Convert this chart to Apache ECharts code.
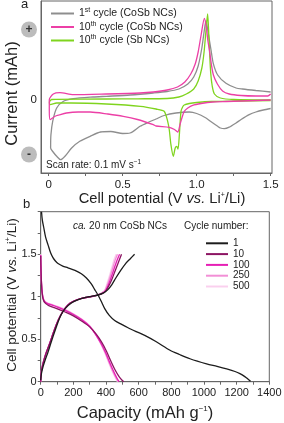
<!DOCTYPE html>
<html><head><meta charset="utf-8">
<script src="https://cdn.jsdelivr.net/npm/echarts@6/dist/echarts.min.js"></script>
<style>html,body{margin:0;padding:0;background:#fff}#c{width:284px;height:423px}</style>
</head><body><div id="c"></div>
<script>
// ---------- Panel a: cyclic voltammetry (potential V, current arbitrary units) ----------
const cvXTicks = [0, 0.25, 0.5, 0.75, 1.0, 1.25, 1.5];
const cvXLabels = [0, 0.5, 1.0, 1.5];
const cvYLabels = [-5.45, 0, 7.05];   // "-", "0", "+"
const cvNames = ['1st cycle (CoSb NCs)', '10th cycle (CoSb NCs)', '10th cycle (Sb NCs)'];
const cvCycle1CoSb = [[1.5,-0.85],[1.45,-1.0],[1.4,-1.2],[1.355,-1.47],[1.3,-1.95],[1.266,-2.3],[1.22,-2.72],[1.187,-2.87],[1.16,-2.8],[1.142,-2.63],[1.1,-2.2],[1.063,-1.8],[1.0,-1.35],[0.95,-1.2],[0.86,-1.3],[0.78,-1.55],[0.725,-1.9],[0.67,-2.25],[0.617,-2.63],[0.55,-3.3],[0.5,-3.35],[0.42,-3.15],[0.35,-3.2],[0.28,-3.63],[0.21,-4.13],[0.155,-4.8],[0.11,-5.63],[0.08,-5.97],[0.054,-5.63],[0.03,-5.2],[0.013,-4.8],[0.015,-3.5],[0.027,-2.13],[0.054,-0.8],[0.1,-0.13],[0.166,0.13],[0.3,0.3],[0.39,0.37],[0.55,0.5],[0.707,0.7],[0.8,0.85],[0.88,1.1],[0.94,1.6],[0.98,2.3],[1.01,3.4],[1.035,5.2],[1.05,6.8],[1.063,7.93],[1.075,7.0],[1.088,5.8],[1.097,5.0],[1.112,3.67],[1.142,2.5],[1.198,1.67],[1.266,1.2],[1.31,1.1],[1.4,0.95],[1.5,0.8]];
const cvCycle10CoSb = [[1.5,0.0],[1.4,-0.05],[1.3,-0.1],[1.2,-0.15],[1.108,-0.2],[1.03,-0.35],[0.973,-0.53],[0.94,-0.8],[0.916,-1.13],[0.9,-1.8],[0.887,-2.47],[0.872,-3.2],[0.85,-2.95],[0.815,-2.73],[0.725,-2.6],[0.707,-2.47],[0.6,-1.95],[0.504,-1.63],[0.4,-1.4],[0.28,-1.2],[0.2,-1.2],[0.12,-1.3],[0.07,-1.5],[0.043,-1.63],[0.01,-1.97],[0.004,-1.0],[0.004,0.03],[0.031,0.6],[0.076,0.73],[0.166,0.53],[0.39,0.6],[0.617,0.7],[0.707,0.8],[0.8,1.0],[0.87,1.3],[0.92,1.8],[0.96,2.6],[0.99,3.6],[1.01,4.8],[1.03,6.5],[1.052,8.17],[1.065,7.3],[1.075,6.0],[1.086,5.0],[1.1,3.5],[1.113,2.5],[1.14,1.6],[1.175,0.9],[1.22,0.6],[1.3,0.45],[1.4,0.4],[1.48,0.4],[1.5,0.6]];
const cvCycle10Sb = [[1.5,-0.05],[1.3,-0.1],[1.1,-0.15],[1.0,-0.25],[0.95,-0.35],[0.916,-0.5],[0.905,-0.7],[0.894,-1.13],[0.883,-3.47],[0.874,-4.9],[0.865,-4.63],[0.855,-4.8],[0.842,-5.63],[0.826,-4.47],[0.815,-3.0],[0.804,-2.13],[0.78,-1.13],[0.725,-0.9],[0.62,-0.63],[0.39,-0.4],[0.15,-0.3],[0.054,-0.3],[0.01,-0.47],[0.005,-0.2],[0.02,0.05],[0.05,0.07],[0.39,0.1],[0.6,0.12],[0.8,0.15],[0.88,0.3],[0.93,0.6],[0.98,1.1],[1.01,1.9],[1.035,3.2],[1.05,4.8],[1.062,6.8],[1.074,8.6],[1.082,6.5],[1.088,4.5],[1.095,2.67],[1.105,1.4],[1.12,0.6],[1.16,0.2],[1.25,0.05],[1.5,0.0]];

// ---------- Panel b: galvanostatic profiles (capacity mAh/g, potential V) ----------
const gcXLabels = [0, 200, 400, 600, 800, 1000, 1200, 1400];
const gcYLabels = [0, 0.5, 1, 1.5];
const gcCycles = ['1', '10', '100', '250', '500'];
const gc1Discharge = [[5,2.0],[10,1.9],[18,1.82],[30,1.7],[45,1.61],[60,1.52],[75,1.46],[90,1.42],[106,1.39],[135,1.36],[167,1.34],[210,1.31],[249,1.27],[280,1.22],[310,1.15],[335,1.07],[351,1.02],[372,0.94],[392,0.86],[420,0.78],[453,0.72],[490,0.68],[535,0.635],[585,0.59],[637,0.545],[708,0.47],[792,0.37],[850,0.32],[914,0.27],[1016,0.21],[1080,0.18],[1139,0.15],[1190,0.12],[1220,0.095],[1250,0.06],[1270,0.03],[1285,0.005]];
const gc1Charge = [[0,0.02],[5,0.1],[15,0.18],[30,0.27],[45,0.35],[65,0.47],[86,0.59],[106,0.7],[126,0.79],[150,0.86],[188,0.925],[230,0.965],[270,0.99],[310,1.005],[350,1.02],[385,1.045],[410,1.08],[435,1.14],[460,1.22],[490,1.31],[520,1.39],[550,1.45],[575,1.5]];
const gc10Discharge = [[0,1.48],[2,1.3],[5,1.15],[9,1.04],[15,0.97],[25,0.93],[45,0.9],[70,0.88],[106,0.855],[150,0.82],[200,0.775],[250,0.715],[300,0.645],[340,0.56],[375,0.46],[405,0.35],[430,0.24],[455,0.14],[480,0.06],[500,0.015],[510,0]];
const gc10Charge = [[0,0],[4,0.12],[15,0.22],[30,0.32],[55,0.45],[80,0.59],[106,0.72],[137,0.83],[165,0.9],[200,0.945],[250,0.98],[290,0.995],[330,1.01],[370,1.03],[395,1.06],[415,1.12],[435,1.2],[455,1.3],[475,1.4],[495,1.5]];
const gc100Discharge = [[0,1.49],[2,1.3],[5,1.15],[9,1.05],[15,0.98],[25,0.94],[45,0.915],[70,0.9],[106,0.875],[150,0.84],[200,0.79],[250,0.73],[300,0.65],[335,0.56],[370,0.45],[398,0.34],[422,0.23],[445,0.13],[465,0.05],[480,0]];
const gc100Charge = [[0,0],[4,0.12],[15,0.22],[30,0.32],[55,0.45],[80,0.59],[106,0.72],[137,0.83],[165,0.9],[200,0.945],[250,0.98],[290,0.995],[330,1.01],[370,1.035],[395,1.065],[412,1.13],[430,1.22],[448,1.32],[466,1.42],[483,1.5]];
const gc250Discharge = [[0,1.49],[2,1.3],[5,1.16],[9,1.06],[15,0.985],[25,0.945],[45,0.92],[70,0.905],[106,0.88],[150,0.845],[200,0.795],[250,0.735],[300,0.655],[335,0.56],[368,0.45],[395,0.34],[418,0.23],[440,0.13],[460,0.05],[475,0]];
const gc250Charge = [[0,0],[4,0.12],[15,0.22],[30,0.32],[55,0.45],[80,0.59],[106,0.72],[137,0.83],[165,0.9],[200,0.945],[250,0.98],[290,0.995],[330,1.01],[370,1.04],[392,1.07],[408,1.14],[424,1.23],[440,1.33],[456,1.43],[470,1.5]];
const gc500Discharge = [[0,1.5],[2,1.3],[5,1.16],[9,1.06],[15,0.99],[25,0.95],[45,0.925],[70,0.91],[106,0.885],[150,0.85],[200,0.8],[250,0.74],[300,0.66],[335,0.565],[366,0.45],[392,0.34],[415,0.23],[436,0.13],[456,0.05],[470,0]];
const gc500Charge = [[0,0],[4,0.12],[15,0.22],[30,0.32],[55,0.45],[80,0.59],[106,0.72],[137,0.83],[165,0.9],[200,0.945],[250,0.98],[290,0.995],[330,1.01],[370,1.04],[390,1.07],[405,1.15],[420,1.24],[435,1.34],[450,1.44],[462,1.5]];

const FONT = 'Liberation Sans, Arial, Helvetica, sans-serif';
const TXT = '#222';
const AX = '#666';
const cvColors = ['#8e8e8e', '#ec3fa6', '#7fd41e'];
const gcColors = {'1':'#1c1c1c','10':'#8c1462','100':'#e61fb5','250':'#f28fd6','500':'#fad0ee'};

const supRich = {
  sup: {fontSize: 7, fontFamily: FONT, color: TXT, verticalAlign: 'top', padding: [0,0,6,0]},
  it: {fontStyle: 'italic', fontFamily: FONT, color: TXT}
};

const chart = echarts.init(document.getElementById('c'), null, {renderer: 'canvas'});

function cvSeries(name, data, color) {
  return {type: 'line', name: name, xAxisIndex: 0, yAxisIndex: 0, data: data, showSymbol: false, symbol: 'none',
    smooth: 0.25, lineStyle: {color: color, width: 1.3}, itemStyle: {color: color}, silent: true, animation: false};
}
function gcSeries(name, data) {
  return {type: 'line', name: name, xAxisIndex: 1, yAxisIndex: 1, data: data, showSymbol: false, symbol: 'none',
    smooth: 0.3, lineStyle: {color: gcColors[name], width: 1.3}, itemStyle: {color: gcColors[name]}, silent: true, animation: false};
}
const hiddenSymbol = {color: 'rgba(0,0,0,0)', borderColor: 'rgba(0,0,0,0)', borderWidth: 0, opacity: 0};

const option = {
  animation: false,
  backgroundColor: '#fff',
  textStyle: {fontFamily: FONT},
  grid: [
    {left: 41, top: 1, width: 231, height: 172, show: true, borderColor: AX, borderWidth: 1, containLabel: false, outerBoundsMode: 'none'},
    {left: 40.7, top: 211.7, width: 228.6, height: 170, show: true, borderColor: AX, borderWidth: 1, containLabel: false, outerBoundsMode: 'none'}
  ],
  xAxis: [
    {type: 'value', gridIndex: 0, min: -0.052, max: 1.509,
      axisLine: {show: true, onZero: false, lineStyle: {color: AX}},
      axisTick: {show: true, customValues: cvXTicks, length: 3, lineStyle: {color: AX}},
      axisLabel: {customValues: cvXLabels, fontSize: 11.5, color: TXT, margin: 6, fontFamily: FONT,
        formatter: v => v === 0 ? '0' : v.toFixed(1)},
      splitLine: {show: false},
      name: 'Cell potential (V {it|vs.} Li{sup|+}/Li)', nameLocation: 'middle', nameGap: 18,
      nameTextStyle: {fontSize: 14.7, color: TXT, fontFamily: FONT, padding: [0,0,0,11], rich: supRich}
    },
    {type: 'value', gridIndex: 1, min: 0, max: 1400, interval: 100,
      axisLine: {show: true, onZero: false, lineStyle: {color: AX}},
      axisTick: {show: true, length: 3, lineStyle: {color: AX}},
      axisLabel: {customValues: gcXLabels, fontSize: 11, color: TXT, margin: 6, fontFamily: FONT, formatter: v => String(v)},
      splitLine: {show: false},
      name: 'Capacity (mAh g{sup|−1})', nameLocation: 'middle', nameGap: 23,
      nameTextStyle: {fontSize: 16.5, color: TXT, fontFamily: FONT, padding: [0,20,0,0],
        rich: {sup: {fontSize: 8, fontFamily: FONT, color: TXT, verticalAlign: 'top', padding: [0,0,7,0]}}}
    }
  ],
  yAxis: [
    {type: 'value', gridIndex: 0, min: -7.3, max: 9.9,
      axisLine: {show: true, onZero: false, lineStyle: {color: AX}},
      axisTick: {show: false},
      axisLabel: {customValues: cvYLabels, margin: 4, color: TXT, fontFamily: FONT, fontSize: 11.5,
        formatter: v => v === 0 ? '0' : (v > 0 ? '{c|+}' : '{c|-}'),
        rich: {c: {backgroundColor: '#bcbcbc', borderRadius: 8, width: 16, height: 16, lineHeight: 16,
          align: 'center', fontSize: 12, fontWeight: 'bold', color: '#333', fontFamily: FONT}}},
      splitLine: {show: false}
    },
    {type: 'value', gridIndex: 1, min: 0, max: 2.0, interval: 0.25,
      axisLine: {show: true, onZero: false, lineStyle: {color: AX}},
      axisTick: {show: true, length: 3, lineStyle: {color: AX}},
      axisLabel: {customValues: gcYLabels, fontSize: 11, color: TXT, margin: 4, fontFamily: FONT, formatter: v => String(v)},
      splitLine: {show: false}
    }
  ],
  legend: [
    {orient: 'vertical', left: 50, top: 7, padding: 0, itemWidth: 23, itemHeight: 12, itemGap: 1.5,
      data: cvNames, selectedMode: false, itemStyle: hiddenSymbol,
      textStyle: {fontSize: 10.5, color: TXT, fontFamily: FONT, rich: supRich},
      formatter: n => n.replace(/^(\d+)(st|th)/, '$1{sup|$2}')},
    {orient: 'vertical', left: 205, top: 238.3, padding: 0, itemWidth: 22, itemHeight: 10, itemGap: 0.8,
      data: gcCycles, selectedMode: false, itemStyle: hiddenSymbol,
      textStyle: {fontSize: 10, color: TXT, fontFamily: FONT}}
  ],
  graphic: [
    {type: 'text', x: 12, y: 93.5, rotation: Math.PI / 2,
      style: {text: 'Current (mAh)', fontSize: 16.5, fill: TXT, fontFamily: FONT, align: 'center', verticalAlign: 'middle'}},
    {type: 'text', x: 12, y: 295, rotation: Math.PI / 2,
      style: {text: 'Cell potential (V {it|vs.} Li{sup|+}/Li)', fontSize: 13.5, fill: TXT, fontFamily: FONT,
        align: 'center', verticalAlign: 'middle',
        rich: {it: {fontStyle: 'italic', fontSize: 13.5, fill: TXT, fontFamily: FONT},
               sup: {fontSize: 7, fill: TXT, fontFamily: FONT, verticalAlign: 'top', padding: [0,0,6,0]}}}},
    {type: 'text', left: 21, top: -2, style: {text: 'a', fontSize: 13, fill: TXT, fontFamily: FONT}},
    {type: 'text', left: 23, top: 198, style: {text: 'b', fontSize: 13, fill: TXT, fontFamily: FONT}},
    {type: 'text', left: 46, top: 159, style: {text: 'Scan rate: 0.1 mV s{sup|−1}', fontSize: 10, fill: TXT, fontFamily: FONT,
      rich: {sup: {fontSize: 6.5, verticalAlign: 'top', fill: TXT, padding: [0,0,5,0]}}}},
    {type: 'text', left: 73, top: 221, style: {text: '{it|ca.} 20 nm CoSb NCs', fontSize: 10, fill: TXT, fontFamily: FONT,
      rich: {it: {fontStyle: 'italic', fontSize: 10, fill: TXT}}}},
    {type: 'text', left: 184, top: 221, style: {text: 'Cycle number:', fontSize: 10, fill: TXT, fontFamily: FONT}}
  ],
  series: [
    cvSeries(cvNames[0], cvCycle1CoSb, cvColors[0]),
    cvSeries(cvNames[2], cvCycle10Sb, cvColors[2]),
    cvSeries(cvNames[1], cvCycle10CoSb, cvColors[1]),
    gcSeries('500', gc500Discharge), gcSeries('500', gc500Charge),
    gcSeries('250', gc250Discharge), gcSeries('250', gc250Charge),
    gcSeries('100', gc100Discharge), gcSeries('100', gc100Charge),
    gcSeries('10', gc10Discharge), gcSeries('10', gc10Charge),
    gcSeries('1', gc1Discharge), gcSeries('1', gc1Charge)
  ]
};
chart.setOption(option);
</script>
</body></html>
